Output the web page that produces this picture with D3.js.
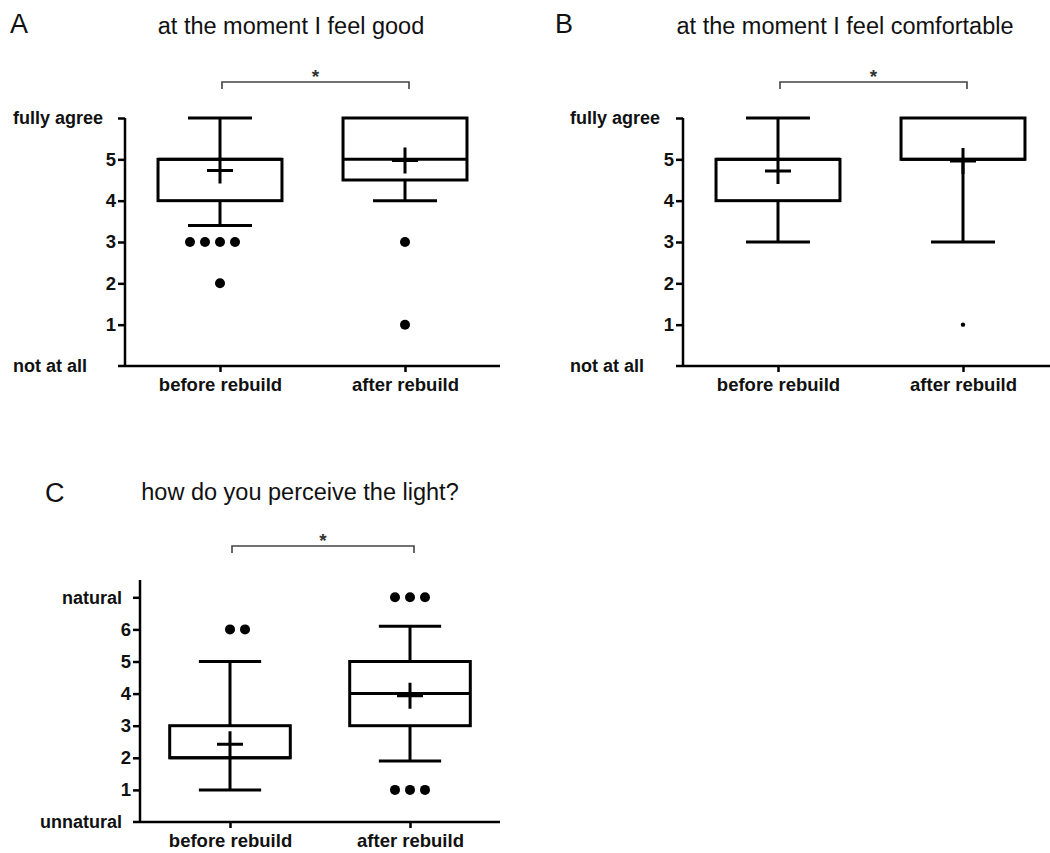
<!DOCTYPE html>
<html>
<head>
<meta charset="utf-8">
<script src="https://cdn.jsdelivr.net/npm/d3@7"></script>
<style>
  body { margin: 0; background: #fff; }
  svg { display: block; font-family: "Liberation Sans", Arial, sans-serif; }
</style>
</head>
<body>
<div id="chart"></div>
<script>
var groups = ["before rebuild", "after rebuild"]

var titles = ["at the moment I feel good", "at the moment I feel comfortable", "how do you perceive the light?"]
var letters = ["A", "B", "C"]

// tick values and the word labels at the two ends of each scale
var yTicksA = [1, 2, 3, 4, 5, 6]
var yTicksB = [1, 2, 3, 4, 5, 6]
var yTicksC = [1, 2, 3, 4, 5, 6, 7]
var topLabels = ["fully agree", "fully agree", "natural"]
var bottomLabels = ["not at all", "not at all", "unnatural"]

// box stats
var boxesA = [
  {group: "before rebuild", low: 3.4, q1: 4, median: 5, q3: 5, high: 6, mean: 4.73},
  {group: "after rebuild", low: 4, q1: 4.5, median: 5, q3: 6, high: 6, mean: 4.97}
]
var boxesB = [
  {group: "before rebuild", low: 3, q1: 4, median: 5, q3: 5, high: 6, mean: 4.72},
  {group: "after rebuild", low: 3, q1: 5, median: 5, q3: 6, high: 6, mean: 4.96}
]
var boxesC = [
  {group: "before rebuild", low: 1, q1: 2, median: 2, q3: 3, high: 5, mean: 2.42},
  {group: "after rebuild", low: 1.9, q1: 3, median: 4, q3: 5, high: 6.1, mean: 3.93}
]

// outliers; col = column of tied points
var outliersA = [
  {group: "before rebuild", value: 3, col: -2},
  {group: "before rebuild", value: 3, col: -1},
  {group: "before rebuild", value: 3, col: 0},
  {group: "before rebuild", value: 3, col: 1},
  {group: "before rebuild", value: 2, col: 0},
  {group: "after rebuild", value: 3, col: 0},
  {group: "after rebuild", value: 1, col: 0}
]
var outliersB = [
  {group: "after rebuild", value: 1, col: 0}
]
var outliersC = [
  {group: "before rebuild", value: 6, col: 0},
  {group: "before rebuild", value: 6, col: 1},
  {group: "after rebuild", value: 7, col: -1},
  {group: "after rebuild", value: 7, col: 0},
  {group: "after rebuild", value: 7, col: 1},
  {group: "after rebuild", value: 1, col: -1},
  {group: "after rebuild", value: 1, col: 0},
  {group: "after rebuild", value: 1, col: 1}
]

var svg = d3.select("#chart").append("svg")
  .attr("width", 1050)
  .attr("height", 853)

svg.append("rect").attr("width", 1050).attr("height", 853).attr("fill", "#fff")

// layout of the three panels
var panels = [
  {i: 0, boxes: boxesA, outliers: outliersA, ticks: yTicksA, yMax: 6,
   axisX: 125, xEnd: 500, baseY: 366, maxY: 118, axisTop: 118,
   letterX: 10, letterY: 33, titleX: 291, titleY: 34, bracketY: 82,
   wordX: 13, wordAnchor: "start", dotR: 5},
  {i: 1, boxes: boxesB, outliers: outliersB, ticks: yTicksB, yMax: 6,
   axisX: 683, xEnd: 1058, baseY: 366, maxY: 118, axisTop: 118,
   letterX: 555, letterY: 33, titleX: 845, titleY: 34, bracketY: 82,
   wordX: 570, wordAnchor: "start", dotR: 2.2},
  {i: 2, boxes: boxesC, outliers: outliersC, ticks: yTicksC, yMax: 7,
   axisX: 140, xEnd: 500, baseY: 822, maxY: 597.3, axisTop: 580,
   letterX: 45, letterY: 502, titleX: 300, titleY: 500, bracketY: 546,
   wordX: 122, wordAnchor: "end", dotR: 5}
]

panels.forEach(drawPanel)

function drawPanel(p) {
  var g = svg.append("g")

  var y = d3.scaleLinear().domain([0, p.yMax]).range([p.baseY, p.maxY])
  var x = d3.scalePoint().domain(groups)
    .range([p.axisX, p.xEnd]).padding(p.i == 2 ? 0.5 : 0.5135)
  var step = x.step()
  var boxW = step * 0.67, capW = step * 0.346, cross = 13

  g.append("text")
    .attr("x", p.letterX).attr("y", p.letterY)
    .attr("font-size", 27).attr("fill", "#111")
    .text(letters[p.i])

  g.append("text")
    .attr("x", p.titleX).attr("y", p.titleY)
    .attr("text-anchor", "middle")
    .attr("font-size", 23.5).attr("fill", "#111")
    .text(titles[p.i])

  // y axis
  var yAxis = g.append("g")
    .attr("transform", "translate(" + p.axisX + ",0)")
    .call(d3.axisLeft(y)
      .tickValues(p.ticks)
      .tickSize(7)
      .tickPadding(2)
      .tickFormat(d => d == p.yMax ? topLabels[p.i] : d))
  yAxis.select(".domain").remove()
  yAxis.selectAll("line").attr("stroke", "#000").attr("stroke-width", 2.5)
  yAxis.selectAll("text")
    .attr("font-size", 18.5).attr("font-weight", "bold").attr("fill", "#111")
    .attr("font-family", "'Liberation Sans', Arial, sans-serif")
  yAxis.selectAll(".tick")
    .filter(d => d == p.yMax)
    .select("text")
    .attr("font-size", 18)
    .attr("text-anchor", p.wordAnchor)
    .attr("x", p.wordX - p.axisX)

  g.append("text")
    .attr("x", p.wordX).attr("y", y(0)).attr("dy", "0.32em")
    .attr("text-anchor", p.wordAnchor)
    .attr("font-size", 18).attr("font-weight", "bold").attr("fill", "#111")
    .text(bottomLabels[p.i])

  g.append("line")
    .attr("x1", p.axisX).attr("x2", p.axisX)
    .attr("y1", p.axisTop).attr("y2", p.baseY)
    .attr("stroke", "#000").attr("stroke-width", 2.5)

  // x axis
  g.append("line")
    .attr("x1", p.axisX - 7).attr("x2", p.xEnd)
    .attr("y1", p.baseY).attr("y2", p.baseY)
    .attr("stroke", "#000").attr("stroke-width", 2.5)

  var xAxis = g.append("g")
    .attr("transform", "translate(0," + p.baseY + ")")
    .call(d3.axisBottom(x).tickSize(6).tickPadding(6))
  xAxis.select(".domain").remove()
  xAxis.selectAll("line").attr("stroke", "#000").attr("stroke-width", 2.5)
  xAxis.selectAll("text")
    .attr("font-size", 18.5).attr("font-weight", "bold").attr("fill", "#111")
    .attr("font-family", "'Liberation Sans', Arial, sans-serif")

  // significance bracket
  var bx0 = x(groups[0]) + 2, bx1 = x(groups[1]) + 4
  g.append("path")
    .attr("d", "M" + bx0 + "," + (p.bracketY + 7) + "V" + p.bracketY + "H" + bx1 + "V" + (p.bracketY + 7))
    .attr("fill", "none").attr("stroke", "#444").attr("stroke-width", 1.6)
  g.append("text")
    .attr("x", (bx0 + bx1) / 2).attr("y", p.bracketY + 1)
    .attr("text-anchor", "middle")
    .attr("font-size", 19).attr("font-weight", "bold").attr("fill", "#333")
    .text("*")

  // whiskers
  var box = g.selectAll(".box").data(p.boxes).enter().append("g").attr("class", "box")
  var lw = 3

  box.append("line")
    .attr("x1", d => x(d.group)).attr("x2", d => x(d.group))
    .attr("y1", d => y(d.q3)).attr("y2", d => y(d.high))
    .attr("stroke", "#000").attr("stroke-width", lw)
  box.append("line")
    .attr("x1", d => x(d.group)).attr("x2", d => x(d.group))
    .attr("y1", d => y(d.q1)).attr("y2", d => y(d.low))
    .attr("stroke", "#000").attr("stroke-width", lw)
  box.filter(d => d.high > d.q3).append("line")
    .attr("x1", d => x(d.group) - capW / 2).attr("x2", d => x(d.group) + capW / 2)
    .attr("y1", d => y(d.high)).attr("y2", d => y(d.high))
    .attr("stroke", "#000").attr("stroke-width", lw)
  box.filter(d => d.low < d.q1).append("line")
    .attr("x1", d => x(d.group) - capW / 2).attr("x2", d => x(d.group) + capW / 2)
    .attr("y1", d => y(d.low)).attr("y2", d => y(d.low))
    .attr("stroke", "#000").attr("stroke-width", lw)

  box.append("rect")
    .attr("x", d => x(d.group) - boxW / 2)
    .attr("width", boxW)
    .attr("y", d => y(d.q3))
    .attr("height", d => y(d.q1) - y(d.q3))
    .attr("fill", "none").attr("stroke", "#000").attr("stroke-width", lw)
  box.append("line")
    .attr("x1", d => x(d.group) - boxW / 2).attr("x2", d => x(d.group) + boxW / 2)
    .attr("y1", d => y(d.median)).attr("y2", d => y(d.median))
    .attr("stroke", "#000").attr("stroke-width", lw)

  // mean marker
  box.append("path")
    .attr("d", d => {
      var cx = x(d.group), cy = y(d.mean)
      return "M" + (cx - cross) + "," + cy + "H" + (cx + cross) +
        "M" + cx + "," + (cy - cross) + "V" + (cy + cross)
    })
    .attr("fill", "none").attr("stroke", "#000").attr("stroke-width", lw)

  g.selectAll(".dot").data(p.outliers).enter().append("circle")
    .attr("cx", d => x(d.group) + d.col * 15)
    .attr("cy", d => y(d.value))
    .attr("r", p.dotR)
    .attr("fill", "#000")
}
</script>
</body>
</html>
